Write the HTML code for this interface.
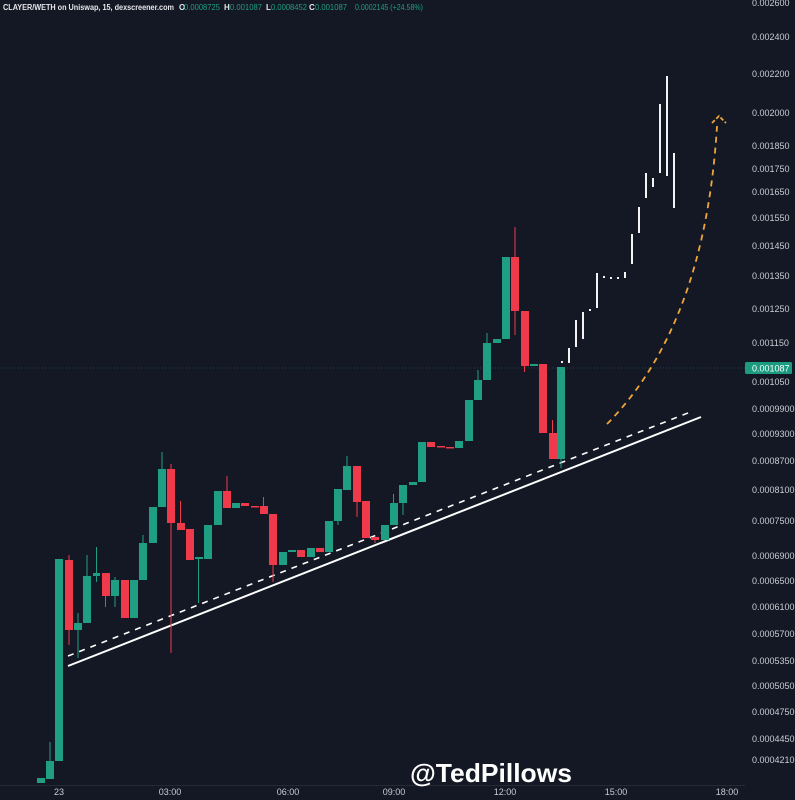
<!DOCTYPE html>
<html><head><meta charset="utf-8"><style>
html,body{margin:0;padding:0;background:#141824;}
svg{display:block;}
.g{fill:#1f9e84}.r{fill:#ee3a4a}.w{fill:#f2f2f2}
.gw{stroke:#1f9e84;stroke-width:1}.rw{stroke:#ee3a4a;stroke-width:1}
.ax{font-family:"Liberation Sans",sans-serif;font-size:9px;fill:#c9ccd3}
</style></head><body>
<svg width="795" height="800" viewBox="0 0 795 800" xmlns="http://www.w3.org/2000/svg">
<rect width="795" height="800" fill="#141824"/>
<!-- separators -->
<line x1="0" y1="785.5" x2="745" y2="785.5" stroke="#252a36" stroke-width="1"/>
<line x1="0" y1="368" x2="745" y2="368" stroke="#1e4a48" stroke-width="1" stroke-dasharray="1,2"/>

<!-- header -->
<g font-family="Liberation Sans,sans-serif" font-size="8">
<text x="3" y="10" fill="#e6e7ea" font-weight="bold" textLength="171" lengthAdjust="spacingAndGlyphs">CLAYER/WETH on Uniswap, 15, dexscreener.com</text>
<text x="179" y="10" fill="#e6e7ea" font-weight="bold">O</text>
<text x="184" y="10" fill="#1f9e84" textLength="36" lengthAdjust="spacingAndGlyphs">0.0008725</text>
<text x="224" y="10" fill="#e6e7ea" font-weight="bold">H</text>
<text x="230" y="10" fill="#1f9e84" textLength="32" lengthAdjust="spacingAndGlyphs">0.001087</text>
<text x="266" y="10" fill="#e6e7ea" font-weight="bold">L</text>
<text x="271" y="10" fill="#1f9e84" textLength="36" lengthAdjust="spacingAndGlyphs">0.0008452</text>
<text x="309" y="10" fill="#e6e7ea" font-weight="bold">C</text>
<text x="315" y="10" fill="#1f9e84" textLength="32" lengthAdjust="spacingAndGlyphs">0.001087</text>
<text x="355" y="10" fill="#1f9e84" textLength="68" lengthAdjust="spacingAndGlyphs">0.0002145 (+24.58%)</text>
</g>

<!-- trend lines -->
<line x1="68" y1="666" x2="701" y2="417" stroke="#ffffff" stroke-width="2"/>
<line x1="68" y1="656" x2="693" y2="411" stroke="#ffffff" stroke-width="1.6" stroke-dasharray="6,6"/>

<!-- orange projection -->
<path d="M607,424 Q705,325 717,126" fill="none" stroke="#eea63a" stroke-width="1.8" stroke-dasharray="6,5"/>
<path d="M712,123 L719,116 L726,123" fill="none" stroke="#eea63a" stroke-width="1.8" stroke-dasharray="4,2"/>

<!-- candles -->
<g>
<rect x="37" y="778" width="8" height="5" class="g"/>
<line x1="50" y1="742" x2="50" y2="761" class="gw"/><rect x="46" y="761" width="8" height="18" class="g"/>
<rect x="55" y="559" width="8" height="202" class="g"/>
<line x1="69" y1="555" x2="69" y2="645" class="rw"/><rect x="65" y="560" width="8" height="70" class="r"/>
<line x1="78" y1="613" x2="78" y2="658" class="gw"/><rect x="74" y="623" width="8" height="7" class="g"/>
<line x1="87" y1="555" x2="87" y2="576" class="gw"/><rect x="83" y="576" width="8" height="47" class="g"/>
<line x1="96.5" y1="547" x2="96.5" y2="582" class="gw"/><rect x="93" y="573" width="7" height="3" class="g"/>
<line x1="105.5" y1="573" x2="105.5" y2="607" class="rw"/><rect x="102" y="573" width="8" height="23" class="r"/>
<line x1="115" y1="577" x2="115" y2="607" class="gw"/><rect x="111" y="580" width="8" height="16" class="g"/>
<rect x="121" y="580" width="8" height="38" class="r"/>
<rect x="130" y="580" width="8" height="38" class="g"/>
<line x1="143" y1="535" x2="143" y2="543" class="gw"/><rect x="139" y="543" width="8" height="37" class="g"/>
<rect x="149" y="507" width="8" height="36" class="g"/>
<line x1="162" y1="452" x2="162" y2="469" class="gw"/><rect x="158" y="469" width="8" height="38" class="g"/>
<line x1="171" y1="464" x2="171" y2="653" class="rw"/><rect x="167" y="469" width="8" height="54" class="r"/>
<line x1="180.5" y1="501" x2="180.5" y2="523" class="rw"/><rect x="177" y="523" width="8" height="7" class="r"/>
<rect x="186" y="529" width="8" height="31" class="r"/>
<line x1="198.5" y1="557" x2="198.5" y2="603" class="gw"/><rect x="195" y="557" width="8" height="2" class="g"/>
<rect x="204" y="525" width="8" height="34" class="g"/>
<rect x="214" y="491" width="8" height="34" class="g"/>
<line x1="227" y1="476" x2="227" y2="491" class="rw"/><rect x="223" y="491" width="8" height="17" class="r"/>
<rect x="232" y="503" width="8" height="5" class="g"/>
<rect x="241" y="503" width="8" height="3" class="r"/>
<rect x="251" y="506" width="8" height="1.5" class="r"/>
<line x1="263.5" y1="497" x2="263.5" y2="506" class="rw"/><rect x="260" y="506" width="8" height="8" class="r"/>
<line x1="273" y1="514" x2="273" y2="582" class="rw"/><rect x="269" y="514" width="8" height="51" class="r"/>
<rect x="279" y="552" width="8" height="13" class="g"/>
<rect x="288" y="550" width="8" height="2" class="g"/>
<rect x="297" y="550" width="8" height="7" class="r"/>
<rect x="307" y="548" width="8" height="9" class="g"/>
<rect x="316" y="548" width="8" height="4" class="r"/>
<rect x="325" y="521" width="8" height="31" class="g"/>
<line x1="338" y1="489" x2="338" y2="525" class="gw"/><rect x="334" y="489" width="8" height="32" class="g"/>
<line x1="347" y1="456" x2="347" y2="466" class="gw"/><rect x="343" y="466" width="8" height="24" class="g"/>
<line x1="357" y1="466" x2="357" y2="517" class="rw"/><rect x="353" y="466" width="8" height="36" class="r"/>
<rect x="362" y="501" width="8" height="37" class="r"/>
<line x1="375" y1="537" x2="375" y2="543" class="rw"/><rect x="371" y="537" width="8" height="3" class="r"/>
<rect x="381" y="525" width="8" height="15" class="g"/>
<line x1="393.5" y1="494" x2="393.5" y2="503" class="gw"/><rect x="390" y="503" width="8" height="22" class="g"/>
<line x1="403" y1="485" x2="403" y2="515" class="gw"/><rect x="399" y="485" width="8" height="18" class="g"/>
<rect x="409" y="482" width="8" height="3" class="g"/>
<rect x="418" y="442" width="8" height="40" class="g"/>
<rect x="427" y="442" width="8" height="5" class="r"/>
<rect x="437" y="446" width="8" height="1.5" class="r"/>
<rect x="446" y="447" width="8" height="1.5" class="r"/>
<rect x="455" y="441" width="8" height="7" class="g"/>
<rect x="465" y="400" width="8" height="41" class="g"/>
<line x1="478" y1="370" x2="478" y2="380" class="gw"/><rect x="474" y="380" width="8" height="20" class="g"/>
<line x1="487" y1="333" x2="487" y2="343" class="gw"/><rect x="483" y="343" width="8" height="37" class="g"/>
<rect x="493" y="339" width="8" height="4" class="g"/>
<rect x="502" y="257" width="8" height="82" class="g"/>
<line x1="515" y1="227" x2="515" y2="335" class="rw"/><rect x="511" y="257" width="8" height="54" class="r"/>
<line x1="524.5" y1="311" x2="524.5" y2="372" class="rw"/><rect x="521" y="311" width="8" height="55" class="r"/>
<rect x="530" y="364" width="8" height="2" class="g"/>
<rect x="539" y="364" width="8" height="69" class="r"/>
<line x1="552.5" y1="420" x2="552.5" y2="433" class="rw"/><rect x="549" y="433" width="8" height="26" class="r"/>
<line x1="561" y1="459" x2="561" y2="468" class="gw"/><rect x="557" y="367" width="8" height="92" class="g"/>
</g>

<!-- white projection bars -->
<g class="w">
<rect x="561" y="361" width="2" height="2"/>
<rect x="568" y="348" width="2" height="15"/>
<rect x="575" y="320" width="2" height="27"/>
<rect x="582" y="312" width="2" height="27"/>
<rect x="589" y="309" width="2" height="2"/>
<rect x="596" y="273" width="2" height="35"/>
<rect x="603" y="276" width="2" height="2"/>
<rect x="610" y="277" width="2" height="2"/>
<rect x="617" y="277" width="2" height="2"/>
<rect x="624" y="272" width="2" height="6"/>
<rect x="631" y="234" width="2" height="30"/>
<rect x="638" y="207" width="2" height="26"/>
<rect x="645" y="173" width="2" height="25"/>
<rect x="652" y="178" width="2" height="9"/>
<rect x="659" y="104" width="2" height="69"/>
<rect x="666" y="76" width="2" height="100"/>
<rect x="673" y="153" width="2" height="55"/>
</g>

<!-- right axis -->
<g class="ax">
<text x="752" y="6">0.002600</text>
<text x="752" y="40">0.002400</text>
<text x="752" y="77">0.002200</text>
<text x="752" y="116">0.002000</text>
<text x="752" y="149">0.001850</text>
<text x="752" y="172">0.001750</text>
<text x="752" y="195">0.001650</text>
<text x="752" y="221">0.001550</text>
<text x="752" y="249">0.001450</text>
<text x="752" y="279">0.001350</text>
<text x="752" y="312">0.001250</text>
<text x="752" y="346">0.001150</text>
<text x="752" y="385">0.001050</text>
<text x="752" y="412">0.0009900</text>
<text x="752" y="437">0.0009300</text>
<text x="752" y="464">0.0008700</text>
<text x="752" y="493">0.0008100</text>
<text x="752" y="524">0.0007500</text>
<text x="752" y="559">0.0006900</text>
<text x="752" y="584">0.0006500</text>
<text x="752" y="610">0.0006100</text>
<text x="752" y="637">0.0005700</text>
<text x="752" y="664">0.0005350</text>
<text x="752" y="689">0.0005050</text>
<text x="752" y="715">0.0004750</text>
<text x="752" y="742">0.0004450</text>
<text x="752" y="763">0.0004210</text>
</g>
<rect x="745" y="362" width="47" height="12" rx="1.5" fill="#1b9c80"/>
<text x="752" y="371.5" font-family="Liberation Sans,sans-serif" font-size="9" fill="#ffffff">0.001087</text>

<!-- time axis -->
<g class="ax" text-anchor="middle">
<text x="59" y="795">23</text>
<text x="170" y="795">03:00</text>
<text x="288" y="795">06:00</text>
<text x="394" y="795">09:00</text>
<text x="505" y="795">12:00</text>
<text x="616" y="795">15:00</text>
<text x="727" y="795">18:00</text>
</g>

<!-- watermark -->
<text x="410" y="782" font-family="Liberation Sans,sans-serif" font-size="26" font-weight="bold" fill="#ffffff" textLength="162" lengthAdjust="spacingAndGlyphs">@TedPillows</text>
</svg>
</body></html>
